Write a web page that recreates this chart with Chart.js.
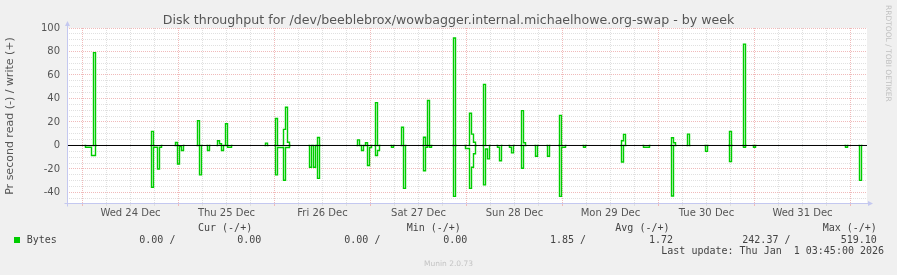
<!DOCTYPE html>
<html>
<head>
<meta charset="utf-8">
<title>Disk throughput - by week</title>
<script src="https://cdn.jsdelivr.net/npm/chart.js@4.4.1/dist/chart.umd.min.js"></script>
<style>
  html, body { margin: 0; padding: 0; background: #f0f0f0; }
  #wrap { position: relative; width: 897px; height: 275px; overflow: hidden; background: #f0f0f0; }
  #chart { position: absolute; left: 0; top: 0; }
  .title { position: absolute; left: 0; width: 897px; top: 11.5px; text-align: center; font-family: 'DejaVu Sans', sans-serif; font-size: 12.6px; line-height: 15px; color: #555; white-space: pre; }
  .mono { position: absolute; white-space: pre; font-family: 'DejaVu Sans Mono', monospace; font-size: 10px; line-height: 12px; color: #444; }
  .swatch { position: absolute; left: 14px; top: 237px; width: 6px; height: 6px; background: #00cc00; }
  .credit { position: absolute; left: 884px; top: 5px; writing-mode: vertical-rl; font-family: 'DejaVu Sans', sans-serif; font-size: 7.5px; color: #c0c0c0; white-space: pre; }
  .munin { position: absolute; left: 0; width: 897px; top: 259px; text-align: center; font-family: 'DejaVu Sans', sans-serif; font-size: 7.5px; line-height: 10px; color: #c4c4c4; }
</style>
</head>
<body>
<div id="wrap">
  <canvas id="chart" width="897" height="275"></canvas>
  <div class="title">Disk throughput for /dev/beeblebrox/wowbagger.internal.michaelhowe.org-swap - by week</div>
  <div class="credit">RRDTOOL / TOBI OETIKER</div>
  <div class="mono" style="left:198px;top:222px">Cur (-/+)</div>
  <div class="mono" style="left:406.7px;top:222px">Min (-/+)</div>
  <div class="mono" style="left:615.3px;top:222px">Avg (-/+)</div>
  <div class="mono" style="left:822.7px;top:222px">Max (-/+)</div>
  <div class="swatch"></div>
  <div class="mono" style="left:26.7px;top:234px">Bytes</div>
  <div class="mono" style="left:139.3px;top:234px">0.00 /</div>
  <div class="mono" style="left:237.3px;top:234px">0.00</div>
  <div class="mono" style="left:344.3px;top:234px">0.00 /</div>
  <div class="mono" style="left:443.3px;top:234px">0.00</div>
  <div class="mono" style="left:550px;top:234px">1.85 /</div>
  <div class="mono" style="left:649px;top:234px">1.72</div>
  <div class="mono" style="left:742.3px;top:234px">242.37 /</div>
  <div class="mono" style="left:840.7px;top:234px">519.10</div>
  <div class="mono" style="left:661.3px;top:245px">Last update: Thu Jan  1 03:45:00 2026</div>
  <div class="munin">Munin 2.0.73</div>
</div>
<script>
// hours since Wed 24 Dec 00:00
const xMin = -3.875;
const xMax = 196.125;

const dayLabels = ['Wed 24 Dec', 'Thu 25 Dec', 'Fri 26 Dec', 'Sat 27 Dec', 'Sun 28 Dec', 'Mon 29 Dec', 'Tue 30 Dec', 'Wed 31 Dec'];

// read (plotted negative)
const readHours = [
  -4,
  0.5, 1, 1.5, 2, 2.5, 3, 3.5,
  17, 17.5, 18, 18.5, 19, 19.5, 20,
  23.5, 24, 24.5, 25, 25.5,
  29, 29.5, 30,
  31, 31.5, 32,
  34.5, 35, 35.5,
  36, 36.5, 37, 37.5,
  48, 48.5, 49, 49.5, 50, 50.5, 51, 51.5, 52,
  56.5, 57, 57.5, 58, 58.5, 59, 59.5,
  69.5, 70, 70.5,
  71, 71.5, 72, 72.5,
  73, 73.5, 74, 74.5,
  77, 77.5, 78,
  80, 80.5, 81,
  85, 85.5, 86, 86.5, 87, 87.5,
  92.5, 93, 93.5,
  95.5, 96, 96.5, 97, 97.5, 98, 98.5,
  100, 100.5, 101, 101.5, 102,
  103.5, 104, 104.5, 105,
  106.5, 107, 107.5, 108,
  109.5, 110, 110.5,
  113, 113.5, 114,
  116, 116.5, 117,
  119, 119.5, 120, 120.5, 121,
  125, 125.5, 126,
  134.5, 135, 135.5,
  140, 140.5, 141, 141.5, 142,
  147, 147.5, 148,
  155.5, 156, 156.5,
  161.5, 162, 162.5,
  165, 165.5, 166,
  167.5, 168, 168.5,
  190.5, 191, 191.5,
  194, 194.5, 195,
  196.5,
];
const readValues = [
  0,
  0, -1.5, -1.5, -1.5, -8.5, -8.5, 0,
  0, -35.5, -1.5, -1.5, -20, -1.5, 0,
  0, -15.7, -1, -4.3, 0,
  0, -25, 0,
  0, -4.3, 0,
  0, -4.3, 0,
  0, -1.5, -1.5, 0,
  0, -25, -1.7, -1.7, -1.7, -29.6, -1.7, -1.7, 0,
  0, -18.5, 0, -18.5, 0, -28, 0,
  0, -4.3, 0,
  0, -17, -1.7, 0,
  0, -8.5, -4.3, 0,
  0, -1.5, 0,
  0, -36.5, 0,
  0, -21.5, -1.5, 0, -1.5, 0,
  0, -43.3, 0,
  0, -2.5, -2.5, -36.5, -18.5, -7, 0,
  0, -33.5, -3, -11.4, 0,
  0, -1.5, -13, 0,
  0, -1.5, -6.3, 0,
  0, -19.4, 0,
  0, -9.2, 0,
  0, -9.2, 0,
  0, -43.3, -1.5, -1.5, 0,
  0, -1.5, 0,
  0, -14, 0,
  0, -1.5, -1.5, -1.5, 0,
  0, -43, 0,
  0, -5, 0,
  0, -13.7, 0,
  0, -1.5, 0,
  0, -1.5, 0,
  0, -1.5, 0,
  0, -29.7, 0,
  0,
];

// write (plotted positive)
const writeHours = [
  -4,
  2.5, 3, 3.5,
  17, 17.5, 18,
  23, 23.5, 24,
  28.5, 29, 29.5,
  33.5, 34, 34.5, 35,
  35.5, 36, 36.5,
  45.5, 46, 46.5,
  48, 48.5, 49,
  50, 50.5, 51, 51.5, 52,
  58.5, 59, 59.5,
  68.5, 69, 69.5,
  70.5, 71, 71.5,
  73, 73.5, 74,
  79.5, 80, 80.5,
  85, 85.5, 86, 86.5, 87,
  92.5, 93, 93.5,
  96.5, 97, 97.5, 98, 98.5,
  100, 100.5, 101,
  109.5, 110, 110.5, 111,
  119, 119.5, 120,
  134.5, 135, 135.5, 136,
  147, 147.5, 148, 148.5,
  151, 151.5, 152,
  161.5, 162, 162.5,
  165, 165.5, 166,
  196.5,
];
const writeValues = [
  0,
  0, 79, 0,
  0, 12, 0,
  0, 2.5, 0,
  0, 21, 0,
  0, 4, 1.5, 0,
  0, 18.5, 0,
  0, 2, 0,
  0, 23, 0,
  0, 13.7, 32.5, 2.8, 0,
  0, 6.8, 0,
  0, 4.8, 0,
  0, 2.3, 0,
  0, 36.5, 0,
  0, 15.5, 0,
  0, 7, 0, 38.3, 0,
  0, 91.5, 0,
  0, 27.5, 9.7, 2.8, 0,
  0, 52, 0,
  0, 29.7, 2.3, 0,
  0, 25.6, 0,
  0, 4, 9.5, 0,
  0, 6.6, 2.3, 0,
  0, 9.7, 0,
  0, 12, 0,
  0, 86.3, 0,
  0,
];

const toPoints = (hours, values) => hours.map((h, i) => ({ x: h, y: values[i] }));

// flat runs at zero sit under the black zero rule, so leave them undrawn
const hideFlatZero = (ctx) => (ctx.p0.parsed.y === 0 && ctx.p1.parsed.y === 0 ? 'rgba(0,0,0,0)' : undefined);

const axisColor = '#c4c8f0';
const majorGrid = '#f0baba';
const minorGrid = '#e0e0e0';

// background + axis arrows
const rrdFrame = {
  id: 'rrdFrame',
  beforeDraw(chart) {
    const { ctx, chartArea: a } = chart;
    ctx.save();
    ctx.fillStyle = '#f0f0f0';
    ctx.fillRect(0, 0, chart.width, chart.height);
    ctx.fillStyle = '#ffffff';
    ctx.fillRect(a.left, a.top, a.right - a.left, a.bottom - a.top);
    ctx.restore();
  },
  afterDraw(chart) {
    const { ctx, chartArea: a } = chart;
    const x = Math.round(a.left) + 0.5;
    const y = Math.round(a.bottom) - 0.5;
    ctx.save();
    ctx.strokeStyle = axisColor;
    ctx.lineWidth = 1;
    ctx.beginPath();
    ctx.moveTo(x, y + 3);
    ctx.lineTo(x, a.top - 3);
    ctx.moveTo(x - 3, y);
    ctx.lineTo(a.right + 2, y);
    ctx.stroke();
    ctx.fillStyle = axisColor;
    ctx.beginPath();
    ctx.moveTo(x - 2.5, a.top - 2);
    ctx.lineTo(x + 2.5, a.top - 2);
    ctx.lineTo(x, a.top - 7);
    ctx.closePath();
    ctx.fill();
    ctx.beginPath();
    ctx.moveTo(a.right + 1, y - 2.5);
    ctx.lineTo(a.right + 1, y + 2.5);
    ctx.lineTo(a.right + 6, y);
    ctx.closePath();
    ctx.fill();
    ctx.restore();
  },
};

const chart = new Chart(document.getElementById('chart'), {
  type: 'line',
  data: {
    datasets: [
      {
        label: 'zero',
        data: [{ x: xMin, y: 0 }, { x: xMax, y: 0 }],
        borderColor: '#000000',
        borderWidth: 1,
        pointRadius: 0,
      },
      {
        label: 'Bytes write',
        data: toPoints(writeHours, writeValues),
        borderColor: '#00cc00',
        borderWidth: 1.4,
        pointRadius: 0,
        stepped: 'middle',
        fill: false,
        segment: { borderColor: hideFlatZero },
      },
      {
        label: 'Bytes read',
        data: toPoints(readHours, readValues),
        borderColor: '#00cc00',
        borderWidth: 1.4,
        pointRadius: 0,
        stepped: 'middle',
        fill: false,
        segment: { borderColor: hideFlatZero },
      },
    ],
  },
  options: {
    responsive: false,
    animation: false,
    events: [],
    layout: {
      padding: { left: 0, right: 30, top: 28, bottom: 0 },
    },
    plugins: {
      legend: { display: false },
      tooltip: { enabled: false },
      title: { display: false },
    },
    scales: {
      x: {
        type: 'linear',
        min: xMin,
        max: xMax,
        afterFit: (scale) => { scale.height = 71; },
        afterBuildTicks: (scale) => {
          const ticks = [];
          for (let h = 0; h <= 192; h += 6) ticks.push({ value: h });
          scale.ticks = ticks;
        },
        ticks: {
          autoSkip: false,
          maxRotation: 0,
          padding: 1,
          color: '#555555',
          font: { family: 'DejaVu Sans', size: 10 },
          callback: (value) => (value % 24 === 12 ? dayLabels[(value - 12) / 24] : ''),
        },
        grid: {
          color: (ctx) => (ctx.tick && ctx.tick.value % 24 === 0 ? majorGrid : minorGrid),
          lineWidth: 1,
          drawTicks: true,
          tickLength: 2,
        },
        border: { display: false, dash: [1, 1] },
      },
      y: {
        min: -49.8,
        max: 100,
        afterFit: (scale) => { scale.width = 67; },
        afterBuildTicks: (scale) => {
          const ticks = [];
          for (let v = -45; v <= 100; v += 5) ticks.push({ value: v });
          scale.ticks = ticks;
        },
        ticks: {
          autoSkip: false,
          padding: 7,
          color: '#555555',
          font: { family: 'DejaVu Sans', size: 10 },
          callback: (value) => (value % 20 === 0 ? String(value) : ''),
        },
        grid: {
          color: (ctx) => (ctx.tick && ctx.tick.value % 20 === 0 ? majorGrid : minorGrid),
          lineWidth: 1,
          drawTicks: false,
        },
        border: { display: false, dash: [1, 1] },
        title: {
          display: true,
          text: 'Pr second read (-) / write (+)',
          color: '#555555',
          font: { family: 'DejaVu Sans', size: 11 },
          padding: { top: 4, bottom: 0 },
        },
      },
    },
  },
  plugins: [rrdFrame],
});
</script>
</body>
</html>
